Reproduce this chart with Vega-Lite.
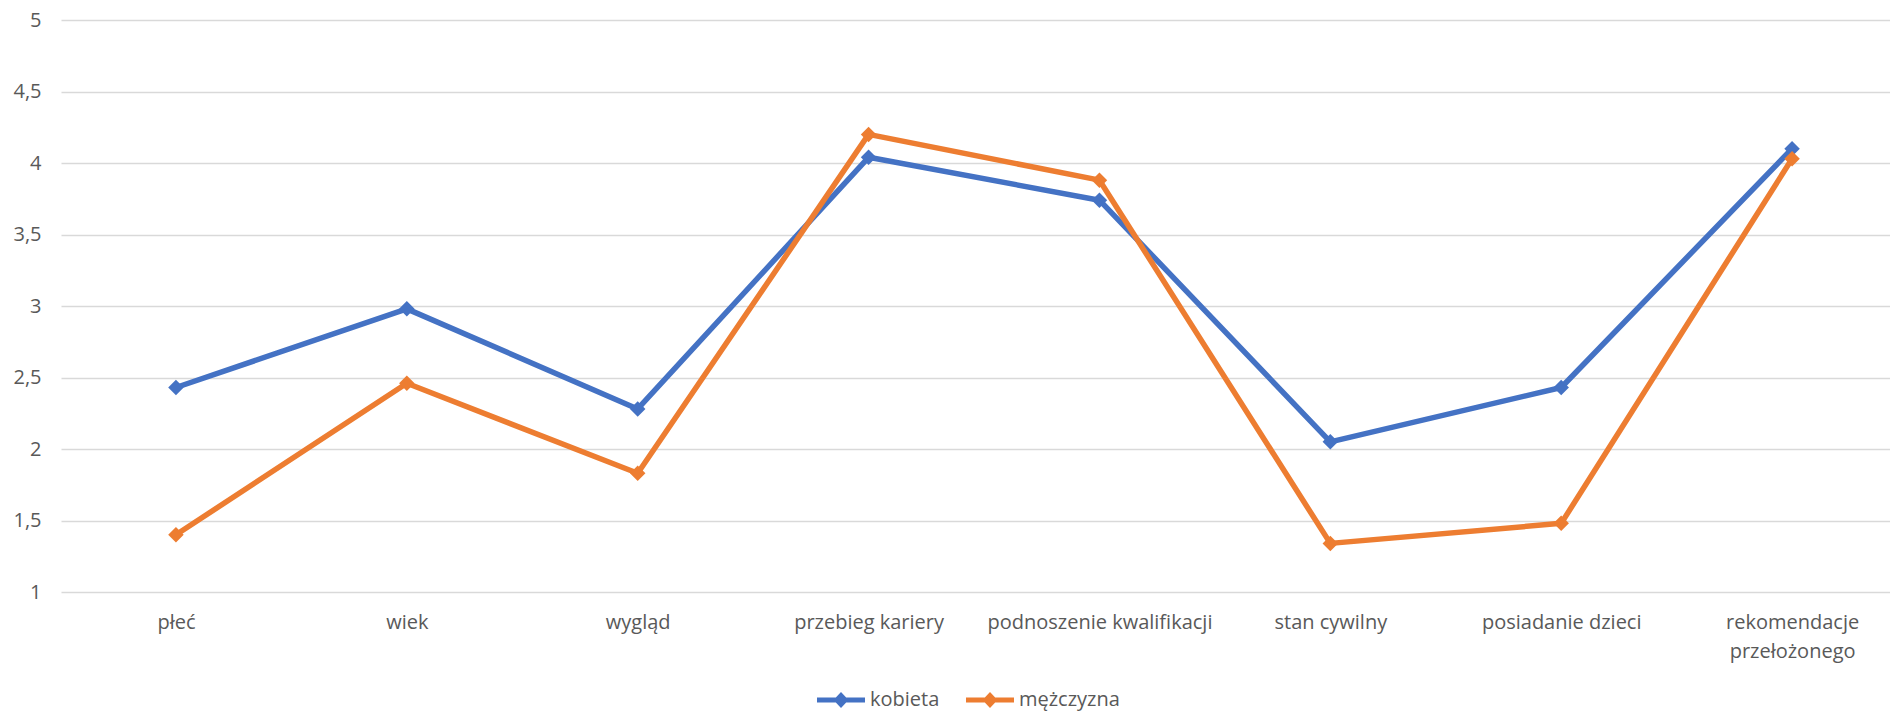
{
  "$schema": "https://vega.github.io/schema/vega-lite/v6.json",
  "width": 1890,
  "height": 712,
  "autosize": {"type": "fit", "contains": "padding"},
  "padding": {"top": 10, "left": 12, "right": 0, "bottom": 2},
  "background": "white",
  "config": {
    "font": "Open Sans",
    "view": {"stroke": null},
    "legend": {"layout": {"bottom": {"anchor": "middle"}}}
  },
  "data": {
    "values": [
      {"kategoria": "płeć", "seria": "kobieta", "wartosc": 2.43},
      {"kategoria": "wiek", "seria": "kobieta", "wartosc": 2.98},
      {"kategoria": "wygląd", "seria": "kobieta", "wartosc": 2.28},
      {"kategoria": "przebieg kariery", "seria": "kobieta", "wartosc": 4.04},
      {"kategoria": "podnoszenie kwalifikacji", "seria": "kobieta", "wartosc": 3.74},
      {"kategoria": "stan cywilny", "seria": "kobieta", "wartosc": 2.05},
      {"kategoria": "posiadanie dzieci", "seria": "kobieta", "wartosc": 2.43},
      {"kategoria": "rekomendacje przełożonego", "seria": "kobieta", "wartosc": 4.1},
      {"kategoria": "płeć", "seria": "mężczyzna", "wartosc": 1.4},
      {"kategoria": "wiek", "seria": "mężczyzna", "wartosc": 2.46},
      {"kategoria": "wygląd", "seria": "mężczyzna", "wartosc": 1.83},
      {"kategoria": "przebieg kariery", "seria": "mężczyzna", "wartosc": 4.2},
      {"kategoria": "podnoszenie kwalifikacji", "seria": "mężczyzna", "wartosc": 3.88},
      {"kategoria": "stan cywilny", "seria": "mężczyzna", "wartosc": 1.34},
      {"kategoria": "posiadanie dzieci", "seria": "mężczyzna", "wartosc": 1.48},
      {"kategoria": "rekomendacje przełożonego", "seria": "mężczyzna", "wartosc": 4.03}
    ]
  },
  "encoding": {
    "x": {
      "field": "kategoria",
      "type": "nominal",
      "title": null,
      "scale": {
        "type": "point",
        "domain": ["płeć", "wiek", "wygląd", "przebieg kariery", "podnoszenie kwalifikacji", "stan cywilny", "posiadanie dzieci", "rekomendacje przełożonego"],
        "padding": 0.461,
        "align": 0.54
      },
      "axis": {
        "labelAngle": 0,
        "domain": false,
        "ticks": false,
        "grid": false,
        "labelPadding": 20,
        "labelFontSize": 20,
        "labelColor": "#595959",
        "labelLimit": 0,
        "labelLineHeight": 29,
        "labelExpr": "datum.label == 'rekomendacje przełożonego' ? ['rekomendacje', 'przełożonego'] : datum.label"
      }
    },
    "y": {
      "field": "wartosc",
      "type": "quantitative",
      "title": null,
      "scale": {"domain": [1, 5], "nice": false, "zero": false},
      "axis": {
        "values": [1, 1.5, 2, 2.5, 3, 3.5, 4, 4.5, 5],
        "format": "~g",
        "domain": false,
        "ticks": false,
        "labelPadding": 20,
        "labelFontSize": 20,
        "labelColor": "#595959",
        "labelFlush": false,
        "gridColor": "#d9d9d9",
        "gridWidth": 1.5,
        "labelExpr": "replace(datum.label, '.', ',')"
      }
    }
  },
  "layer": [
    {
      "transform": [{"filter": "datum.seria == 'kobieta'"}],
      "mark": {"type": "line", "strokeWidth": 5.5, "strokeJoin": "round", "color": "#4472C4"}
    },
    {
      "transform": [{"filter": "datum.seria == 'mężczyzna'"}],
      "mark": {"type": "line", "strokeWidth": 5.5, "strokeJoin": "round", "color": "#ED7D31"}
    },
    {
      "mark": {"type": "point", "filled": true, "shape": "diamond", "size": 240, "opacity": 1},
      "encoding": {
        "color": {
          "field": "seria",
          "type": "nominal",
          "scale": {"domain": ["kobieta", "mężczyzna"], "range": ["#4472C4", "#ED7D31"]},
          "legend": {
            "title": null,
            "orient": "bottom",
            "direction": "horizontal",
            "offset": 29,
            "padding": 0,
            "symbolType": "M-2.4,-0.24L2.4,-0.24L2.4,0.24L-2.4,0.24Z M-0.75,0L0,-0.8L0.75,0L0,0.8Z",
            "symbolSize": 400,
            "symbolStrokeWidth": 0,
            "symbolOpacity": 1,
            "labelOffset": 19,
            "columnPadding": 26,
            "labelFontSize": 20,
            "labelColor": "#595959"
          }
        }
      }
    }
  ]
}
